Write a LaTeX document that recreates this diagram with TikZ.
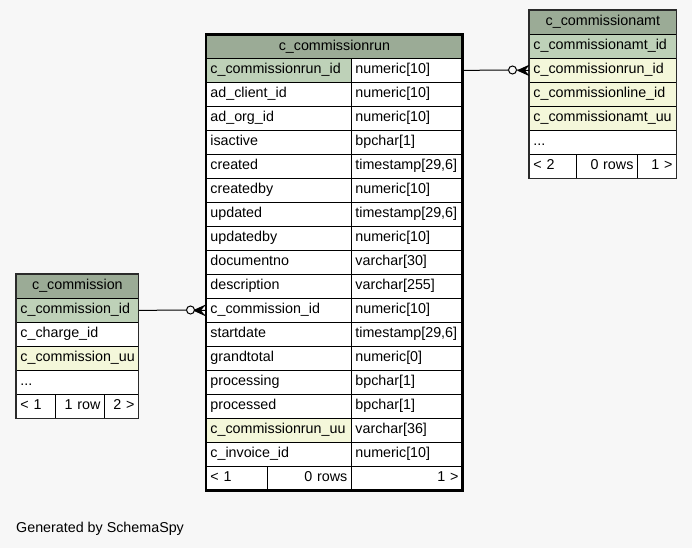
\documentclass[tikz,border=0pt]{standalone}
\usepackage{fontspec}
\setmainfont{Liberation Sans}
\definecolor{bgc}{HTML}{F7F7F7}
\definecolor{hdrc}{HTML}{9BAB96}
\definecolor{pkc}{HTML}{BED1B8}
\definecolor{fkc}{HTML}{F4F7DA}
\definecolor{bordc}{HTML}{2A2A2A}
\newcommand\tabfont{\fontsize{14.3}{17}\selectfont}
\tikzset{
  cell/.style={draw=black, line width=0.8pt, inner xsep=4pt, inner ysep=0pt,
    minimum height=24pt, text height=10.5pt, text depth=3.5pt,
    anchor=north west, align=left, font=\tabfont},
  hdr/.style={cell, fill=hdrc, align=center},
  pk/.style={fill=pkc},
  fk/.style={fill=fkc},
  plain/.style={fill=white},
  conn/.style={line width=1pt, draw=black},
  odot/.style={circle, draw=black, line width=1pt, fill=bgc, minimum size=8pt, inner sep=0pt},
}
% main table row: name, top y, column text, type text, fill style
\newcommand\mrow[5]{%
  \node[cell,#5,text width=137pt] (#1a) at (206,#2) {#3};
  \node[cell,plain,text width=103pt] (#1b) at (351,#2) {#4};}
% crow's foot arriving at a named point from the left
\newcommand\crowfoot[1]{%
  \fill[black] ([xshift=-11pt]#1) -- ([yshift=5pt]#1) -- ([xshift=-4pt]#1) -- ([yshift=-5pt]#1) -- cycle;
  \draw[line width=1pt] ([xshift=-11pt]#1) -- ([yshift=5pt]#1);
  \draw[line width=1pt] ([xshift=-11pt]#1) -- ([yshift=-5pt]#1);}
\begin{document}
\begin{tikzpicture}[x=1pt,y=-1pt]
\useasboundingbox (0,0) rectangle (692,548);
\fill[bgc] (0,0) rectangle (692,548);

% ---------- c_commissionrun ----------
\node[hdr,text width=248pt] (runh) at (206,34.5) {c\_commissionrun};
\mrow{run1}{58}{c\_commissionrun\_id}{numeric[10]}{pk}
\mrow{run2}{82}{ad\_client\_id}{numeric[10]}{plain}
\mrow{run3}{106}{ad\_org\_id}{numeric[10]}{plain}
\mrow{run4}{130}{isactive}{bpchar[1]}{plain}
\mrow{run5}{154}{created}{timestamp[29,6]}{plain}
\mrow{run6}{178}{createdby}{numeric[10]}{plain}
\mrow{run7}{202}{updated}{timestamp[29,6]}{plain}
\mrow{run8}{226}{updatedby}{numeric[10]}{plain}
\mrow{run9}{250}{documentno}{varchar[30]}{plain}
\mrow{run10}{274}{description}{varchar[255]}{plain}
\mrow{run11}{298}{c\_commission\_id}{numeric[10]}{plain}
\mrow{run12}{322}{startdate}{timestamp[29,6]}{plain}
\mrow{run13}{346}{grandtotal}{numeric[0]}{plain}
\mrow{run14}{370}{processing}{bpchar[1]}{plain}
\mrow{run15}{394}{processed}{bpchar[1]}{plain}
\mrow{run16}{418}{c\_commissionrun\_uu}{varchar[36]}{fk}
\mrow{run17}{442}{c\_invoice\_id}{numeric[10]}{plain}
\node[cell,plain,text width=53pt] (runf1) at (206,466) {< 1};
\node[cell,plain,text width=76pt,align=right] (runf2) at (267,466) {0 rows};
\node[cell,plain,text width=103pt,align=right] (runf3) at (351,466) {1 >};
\draw[line width=2.8pt] (runh.north west) rectangle (runf3.south east);

% ---------- c_commissionamt ----------
\node[hdr,text width=139pt] (amth) at (529,10) {c\_commissionamt};
\node[cell,pk,text width=139pt] (amt1) at (529,34) {c\_commissionamt\_id};
\node[cell,fk,text width=139pt] (amt2) at (529,58) {c\_commissionrun\_id};
\node[cell,fk,text width=139pt] (amt3) at (529,82) {c\_commissionline\_id};
\node[cell,fk,text width=139pt] (amt4) at (529,106) {c\_commissionamt\_uu};
\node[cell,plain,text width=139pt] (amt5) at (529,130) {...};
\node[cell,plain,text width=39pt] (amtf1) at (529,154) {< 2};
\node[cell,plain,text width=53pt,align=right] (amtf2) at (576,154) {0 rows};
\node[cell,plain,text width=31pt,align=right] (amtf3) at (637,154) {1 >};
\draw[bordc,line width=1.2pt] (amth.north west) rectangle (amtf3.south east);

% ---------- c_commission ----------
\node[hdr,text width=114pt] (cmh) at (16,274) {c\_commission};
\node[cell,pk,text width=114pt] (cm1) at (16,298) {c\_commission\_id};
\node[cell,plain,text width=114pt] (cm2) at (16,322) {c\_charge\_id};
\node[cell,fk,text width=114pt] (cm3) at (16,346) {c\_commission\_uu};
\node[cell,plain,text width=114pt] (cm4) at (16,370) {...};
\node[cell,plain,text width=31pt] (cmf1) at (16,394) {< 1};
\node[cell,plain,text width=41pt,align=right] (cmf2) at (55,394) {1 row};
\node[cell,plain,text width=26pt,align=right] (cmf3) at (104,394) {2 >};
\draw[bordc,line width=1.2pt] (cmh.north west) rectangle (cmf3.south east);

% ---------- connectors ----------
\node[odot] (o1) at (512.5,70) {};
\coordinate (cf1) at (amt2.west);
\draw[conn] (run1b.east) -- (o1.west);
\draw[conn] (o1.east) -- (cf1);
\crowfoot{cf1}

\node[odot] (o2) at (190.5,310) {};
\coordinate (cf2) at ([xshift=-1pt]run11a.west);
\draw[conn] (cm1.east) -- (o2.west);
\draw[conn] (o2.east) -- (cf2);
\crowfoot{cf2}

\node[font=\tabfont, anchor=base west, inner sep=0pt] (gen) at (16,532) {Generated by SchemaSpy};
\end{tikzpicture}
\end{document}
